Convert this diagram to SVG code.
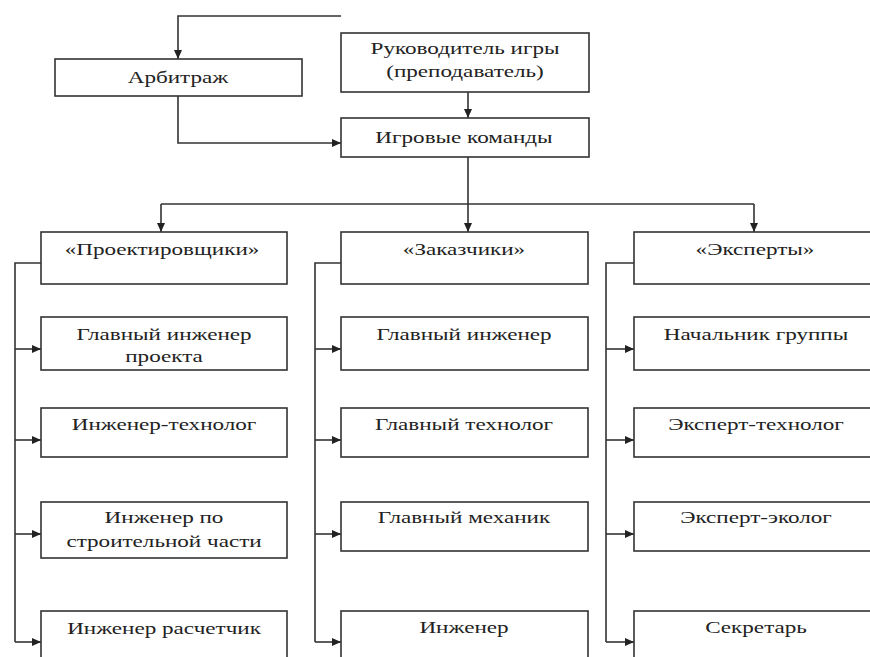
<svg xmlns="http://www.w3.org/2000/svg" width="870" height="657" viewBox="0 0 870 657">
<defs>
<marker id="ah" markerUnits="userSpaceOnUse" markerWidth="9" markerHeight="8" refX="9" refY="4" orient="auto">
<path d="M0,0 L9,4 L0,8 z" fill="#222"/>
</marker>
<style>
.box{fill:#fff;stroke:#333;stroke-width:1.6}
.ln{fill:none;stroke:#333;stroke-width:1.6}
.ar{fill:none;stroke:#333;stroke-width:1.6;marker-end:url(#ah)}
text{font-family:"Liberation Serif","Times New Roman",serif;font-size:17px;fill:#222;text-anchor:middle}
</style>
</defs>
<rect width="870" height="657" fill="#fff"/>
<g id="connectors">
<path class="ar" d="M341,16 H178 V59"/>
<path class="ar" d="M468,92 V118"/>
<path class="ar" d="M178,96 V143 H341"/>
<path class="ln" d="M468,157 V204"/>
<path class="ln" d="M161,204 H754"/>
<path class="ar" d="M161,204 V232"/>
<path class="ar" d="M468,204 V232"/>
<path class="ar" d="M754,204 V232"/>
<path class="ln" d="M41,263 H15 V642"/>
<path class="ar" d="M15,349 H41"/>
<path class="ar" d="M15,440 H41"/>
<path class="ar" d="M15,534 H41"/>
<path class="ar" d="M15,642 H41"/>
<path class="ln" d="M341,263 H315 V642"/>
<path class="ar" d="M315,349 H341"/>
<path class="ar" d="M315,440 H341"/>
<path class="ar" d="M315,534 H341"/>
<path class="ar" d="M315,642 H341"/>
<path class="ln" d="M634,263 H606 V642"/>
<path class="ar" d="M606,349 H634"/>
<path class="ar" d="M606,440 H634"/>
<path class="ar" d="M606,534 H634"/>
<path class="ar" d="M606,642 H634"/>
</g>
<g id="arbitrazh"><rect class="box" x="55" y="59" width="247" height="37"/><text transform="translate(178,83) scale(1.36,1)">Арбитраж</text></g>
<g id="rukovoditel"><rect class="box" x="341" y="33" width="248" height="59"/><text transform="translate(465,54) scale(1.36,1)">Руководитель игры</text><text transform="translate(465,77) scale(1.36,1)">(преподаватель)</text></g>
<g id="komandy"><rect class="box" x="341" y="118" width="248" height="39"/><text transform="translate(464,143) scale(1.36,1)">Игровые команды</text></g>

<g id="proektirovshchiki"><rect class="box" x="41" y="232" width="246" height="52"/><text transform="translate(162,255) scale(1.36,1)">«Проектировщики»</text></g>
<g id="gl-inzh-proekta"><rect class="box" x="41" y="317" width="246" height="53"/><text transform="translate(164,340) scale(1.36,1)">Главный инженер</text><text transform="translate(164,362) scale(1.36,1)">проекта</text></g>
<g id="inzh-tekhnolog"><rect class="box" x="41" y="408" width="246" height="49"/><text transform="translate(164,430) scale(1.36,1)">Инженер-технолог</text></g>
<g id="inzh-stroit"><rect class="box" x="41" y="502" width="246" height="56"/><text transform="translate(164,523) scale(1.36,1)">Инженер по</text><text transform="translate(164,547) scale(1.36,1)">строительной части</text></g>
<g id="inzh-raschetchik"><rect class="box" x="41" y="611" width="246" height="60"/><text transform="translate(164,634) scale(1.36,1)">Инженер расчетчик</text></g>

<g id="zakazchiki"><rect class="box" x="341" y="232" width="247" height="52"/><text transform="translate(464,255) scale(1.36,1)">«Заказчики»</text></g>
<g id="gl-inzh"><rect class="box" x="341" y="317" width="247" height="53"/><text transform="translate(464,340) scale(1.36,1)">Главный инженер</text></g>
<g id="gl-tekhnolog"><rect class="box" x="341" y="408" width="247" height="49"/><text transform="translate(464,430) scale(1.36,1)">Главный технолог</text></g>
<g id="gl-mekhanik"><rect class="box" x="341" y="502" width="247" height="49"/><text transform="translate(464,523) scale(1.36,1)">Главный механик</text></g>
<g id="inzhener"><rect class="box" x="341" y="611" width="247" height="60"/><text transform="translate(464,633) scale(1.36,1)">Инженер</text></g>

<g id="eksperty"><rect class="box" x="634" y="232" width="246" height="52"/><text transform="translate(755,255) scale(1.36,1)">«Эксперты»</text></g>
<g id="nachalnik"><rect class="box" x="634" y="317" width="246" height="53"/><text transform="translate(756,340) scale(1.36,1)">Начальник группы</text></g>
<g id="eksp-tekhnolog"><rect class="box" x="634" y="408" width="246" height="49"/><text transform="translate(756,430) scale(1.36,1)">Эксперт-технолог</text></g>
<g id="eksp-ekolog"><rect class="box" x="634" y="502" width="246" height="49"/><text transform="translate(756,523) scale(1.36,1)">Эксперт-эколог</text></g>
<g id="sekretar"><rect class="box" x="634" y="611" width="246" height="60"/><text transform="translate(756,633) scale(1.36,1)">Секретарь</text></g>
</svg>
